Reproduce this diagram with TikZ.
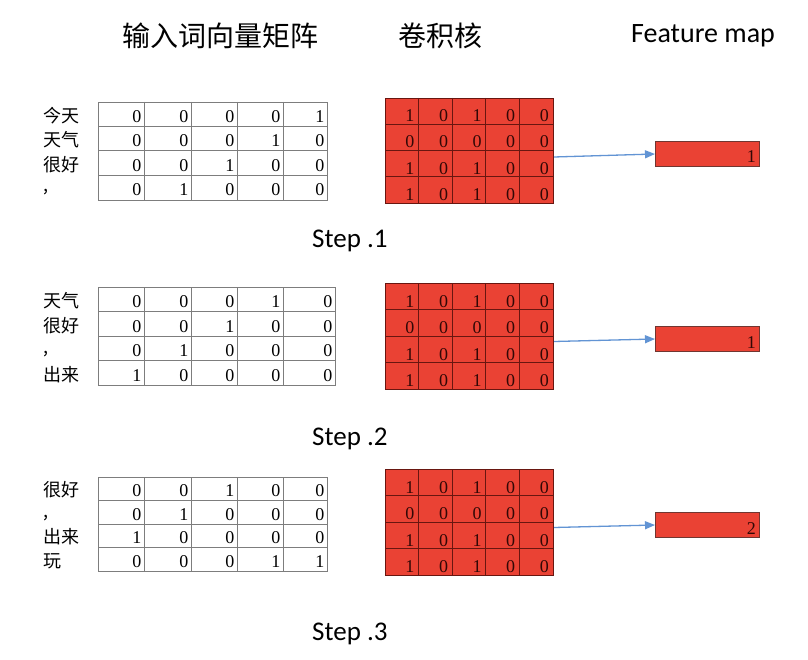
\documentclass[tikz,border=0pt]{standalone}
\usepackage{fontspec}
\setmainfont{Liberation Serif}
\newfontfamily\cjkfont{Noto Sans CJK SC}
\newfontfamily\calfont{Carlito}
\usetikzlibrary{arrows.meta}
\definecolor{kred}{RGB}{234,66,52}
\definecolor{kline}{RGB}{105,22,16}
\definecolor{kdigit}{RGB}{50,8,6}
\definecolor{arrowblue}{RGB}{98,148,212}
\definecolor{gridgray}{RGB}{125,125,125}
\tikzset{
  ingrid/.style={draw=gridgray, line width=1pt, inner sep=0pt, fill=white},
  ingridline/.style={draw=gridgray, line width=1pt},
  kbox/.style={draw=kline, line width=1pt, fill=kred, inner sep=0pt},
  kgridline/.style={draw=kline, line width=0.8pt},
  featbox/.style={draw=kline!70!gray, line width=1pt, fill=kred, inner sep=0pt},
  indigit/.style={inner sep=0pt, font=\fontsize{18}{20}\selectfont, text=black},
  kdig/.style={inner sep=0pt, font=\fontsize{18}{20}\selectfont, text=kdigit},
  lab/.style={inner sep=0pt, font=\cjkfont\fontsize{18}{20}\selectfont},
  header/.style={inner sep=0pt, font=\cjkfont\fontsize{28}{32}\selectfont},
  headersans/.style={inner sep=0pt, font=\calfont\fontsize{28}{32}\selectfont},
  steplabel/.style={inner sep=0pt, font=\calfont\fontsize{27}{32}\selectfont},
  conn/.style={draw=arrowblue, line width=1.3pt, -{Triangle[length=10pt,width=8pt]}}
}
% #1 name, #2 top, #3 bottom, #4 right edge, #5 rows, #6 labels
\newcommand\inmat[6]{%
  \pgfmathsetmacro\rh{(#3-#2)/4}
  \node[ingrid, anchor=north west, minimum width={(#4-98)*1pt}, minimum height={(#3-#2)*1pt}] (#1) at (98,#2) {};
  \foreach \xx in {144,191,237,283} \draw[ingridline] (\xx,#2) -- (\xx,#3);
  \foreach \ii in {1,2,3} \draw[ingridline] (98,{#2+\ii*\rh}) -- (#4,{#2+\ii*\rh});
  \foreach \row [count=\r] in {#5} {
    \foreach \v [count=\c] in \row {
      \pgfmathsetmacro\xr{{144,191,237,283,#4}[\c-1]}
      \node[indigit, anchor=base east] (#1-\r-\c) at ({\xr-2.5},{#2+\r*\rh-4}) {\v};
    }
  }
  \foreach \l [count=\r] in {#6}
    \node[lab, anchor=base west] (#1-l\r) at (43,{#2+\r*\rh-4}) {\l};
}
% #1 name, #2 top, #3 bottom
\newcommand\kernmat[3]{%
  \pgfmathsetmacro\rh{(#3-#2)/4}
  \node[kbox, anchor=north west, minimum width=168pt, minimum height={(#3-#2)*1pt}] (#1) at (385,#2) {};
  \foreach \ii in {1,2,3,4} \draw[kgridline] ({385+\ii*33.6},#2) -- ({385+\ii*33.6},#3);
  \foreach \ii in {1,2,3} \draw[kgridline] (385,{#2+\ii*\rh}) -- (553,{#2+\ii*\rh});
  \foreach \row [count=\r] in {{1,0,1,0,0},{0,0,0,0,0},{1,0,1,0,0},{1,0,1,0,0}} {
    \foreach \v [count=\c] in \row {
      \node[kdig, anchor=base east] (#1-\r-\c) at ({385+\c*33.6-4},{#2+\r*\rh-2.5}) {\v};
    }
  }
}
\newcommand\featmap[3]{%
  \node[featbox, anchor=north west, minimum width=104pt, minimum height=25pt] (#1) at (655,#2) {};
  \node[kdig, anchor=base east] (#1-v) at (756,{#2+22}) {#3};
}
\begin{document}
\begin{tikzpicture}[x=1pt,y=-1pt]
\useasboundingbox (0,0) rectangle (808,660);
\fill[white] (0,0) rectangle (808,660);
% headers
\node[header] (h1) at (220,36) {输入词向量矩阵};
\node[header] (h2) at (440,36) {卷积核};
\node[headersans] (h3) at (703,36) {Feature map};
% step 1
\inmat{a1}{102}{200}{327}{{0,0,0,0,1},{0,0,0,1,0},{0,0,1,0,0},{0,1,0,0,0}}{今天,天气,很好,{\raisebox{4pt}{,}}}
\kernmat{k1}{98}{203}
\featmap{f1}{141}{1}
\draw[conn] ([yshift=-6pt]k1.east) -- (f1.west);
\node[steplabel, anchor=base west] (s1) at (312,248) {Step .1};
% step 2
\inmat{a2}{287}{385}{335}{{0,0,0,1,0},{0,0,1,0,0},{0,1,0,0,0},{1,0,0,0,0}}{天气,很好,{\raisebox{3pt}{,}},出来}
\kernmat{k2}{283}{389}
\featmap{f2}{326}{1}
\draw[conn] ([yshift=-5pt]k2.east) -- (f2.west);
\node[steplabel, anchor=base west] (s2) at (312,445) {Step .2};
% step 3
\inmat{a3}{477}{571}{327}{{0,0,1,0,0},{0,1,0,0,0},{1,0,0,0,0},{0,0,0,1,1}}{很好,{\raisebox{3pt}{,}},出来,玩}
\kernmat{k3}{469}{575}
\featmap{f3}{512}{2}
\draw[conn] ([yshift=-5pt]k3.east) -- (f3.west);
\node[steplabel, anchor=base west] (s3) at (312,640) {Step .3};
\end{tikzpicture}
\end{document}
